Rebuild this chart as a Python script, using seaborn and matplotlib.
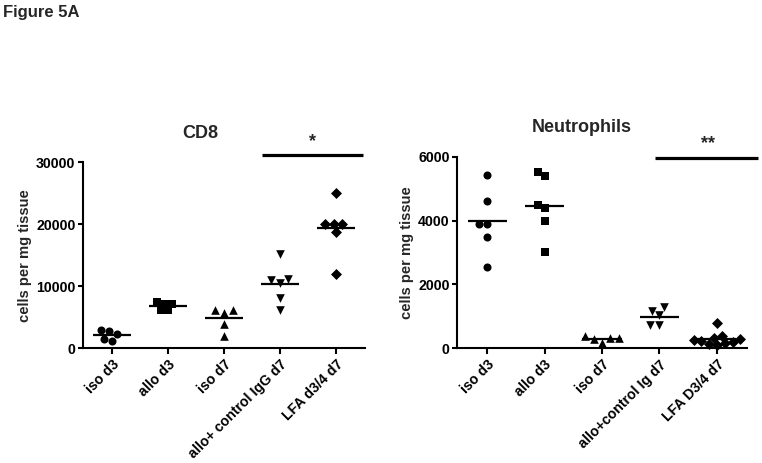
import numpy as np
import pandas as pd
import matplotlib
matplotlib.use("Agg")
import matplotlib.pyplot as plt
import seaborn as sb

# ---- data ----
cd8_groups = ["iso d3", "allo d3", "iso d7", "allo+ control IgG d7", "LFA d3/4 d7"]
cd8_iso_d3 = [2250, 1180, 2950, 2850, 1500]
cd8_allo_d3 = [7100, 7500, 6100, 7100, 6100]
cd8_iso_d7 = [6200, 5750, 6200, 3900, 2000]
cd8_allo_igg_d7 = [15150, 11200, 10600, 11000, 8050, 6100]
cd8_lfa_d7 = [25000, 20000, 20100, 20000, 18800, 12050]
cd8_yticks = [0, 10000, 20000, 30000]

neu_groups = ["iso d3", "allo d3", "iso d7", "allo+control Ig d7", "LFA D3/4 d7"]
neu_iso_d3 = [5430, 4620, 3890, 3890, 3480, 2560]
neu_allo_d3 = [5530, 5400, 4400, 4490, 4000, 3000]
neu_iso_d7 = [300, 330, 180, 380, 320]
neu_allo_ig_d7 = [1280, 1050, 1180, 730, 730]
neu_lfa_d7 = [780, 400, 330, 280, 250, 220, 200, 170, 140, 100]
neu_yticks = [0, 2000, 4000, 6000]

markers = ["o", "s", "^", "v", "D"]
msizes = [5.8, 5.2, 6.2, 6.2, 5.6]


def make_df(groups, series):
	rows = []
	for g, vals in zip(groups, series):
		for v in vals:
			rows.append((g, v))
	return pd.DataFrame(rows, columns=["group", "value"])


cd8_df = make_df(cd8_groups, [cd8_iso_d3, cd8_allo_d3, cd8_iso_d7, cd8_allo_igg_d7, cd8_lfa_d7])
neu_df = make_df(neu_groups, [neu_iso_d3, neu_allo_d3, neu_iso_d7, neu_allo_ig_d7, neu_lfa_d7])

sb.set_style("ticks")
plt.rcParams["font.family"] = ["Liberation Sans", "DejaVu Sans"]
plt.rcParams["font.weight"] = "bold"

fig = plt.figure(figsize=(7.62, 4.63), dpi=100)
ax1 = fig.add_axes([0.109, 0.2477, 0.370, 0.402])
ax2 = fig.add_axes([0.600, 0.2477, 0.380, 0.414])


def draw_panel(ax, df, groups, ymax, yticks, title, title_xy, bar, star, star_xy):
	for i, g in enumerate(groups):
		sub = df[df.group == g]
		sb.swarmplot(data=sub, x="group", y="value", order=groups, ax=ax,
			color="black", marker=markers[i], size=msizes[i],
			linewidth=0, clip_on=False, zorder=3, warn_thresh=1)
	# mean lines
	means = df.groupby("group", sort=False)["value"].mean()
	for i, g in enumerate(groups):
		ax.hlines(means[g], i - 0.34, i + 0.34, color="black", lw=1.6, zorder=4)

	ax.set_xlim(-0.52, len(groups) - 0.48)
	ax.set_ylim(0, ymax)
	ax.set_yticks(yticks)
	ax.set_yticklabels([str(t) for t in yticks], fontsize=10.2, fontweight="bold")
	ax.set_xticks(range(len(groups)))
	ax.set_xticklabels(groups, rotation=45, ha="right", rotation_mode="anchor",
		fontsize=10.2, fontweight="bold")
	ax.set_xlabel("")
	ax.set_ylabel("cells per mg tissue", fontsize=10.6, fontweight="bold", labelpad=3)
	for s in ["top", "right"]:
		ax.spines[s].set_visible(False)
	for s in ["left", "bottom"]:
		ax.spines[s].set_linewidth(1.5)
		ax.spines[s].set_color("black")
	ax.tick_params(axis="both", width=1.5, colors="black", pad=2)
	ax.tick_params(axis="y", length=3.5)
	ax.tick_params(axis="x", length=4.5)

	ax.text(title_xy[0], title_xy[1], title, transform=ax.transAxes,
		ha="center", va="center", fontsize=13, fontweight="bold")
	ax.plot([bar[0], bar[1]], [bar[2], bar[2]], color="black", lw=2.3,
		clip_on=False, solid_capstyle="butt")
	ax.text(star_xy[0], star_xy[1], star, ha="center", va="center",
		fontsize=13, fontweight="bold", clip_on=False)


draw_panel(ax1, cd8_df, cd8_groups, 30000, cd8_yticks, "CD8", (0.417, 1.156),
	(2.675, 4.48, 31180), "*", (3.58, 33300))
draw_panel(ax2, neu_df, neu_groups, 6000, neu_yticks, "Neutrophils", (0.43, 1.153),
	(2.93, 4.72, 5970), "**", (3.85, 6420))

fig.text(0.004, 0.974, "Figure 5A", ha="left", va="center", fontsize=12, fontweight="bold")

plt.savefig("out.png", dpi=100)
